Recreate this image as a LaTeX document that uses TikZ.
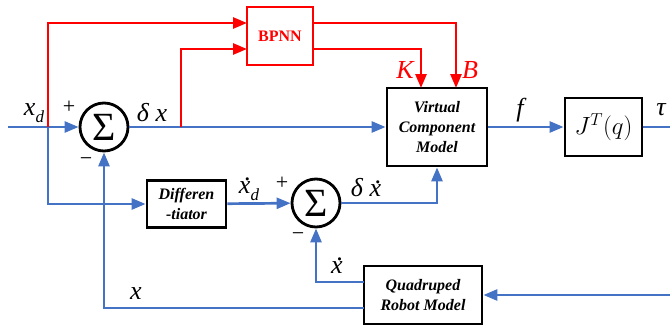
\documentclass[tikz,border=0pt]{standalone}
\usepackage{fontspec}
\setmainfont{Liberation Serif}
\usetikzlibrary{arrows.meta}
\definecolor{lblue}{RGB}{68,114,196}
\newcommand\mysub[1]{\raisebox{-0.28em}{\fontsize{17}{17}\selectfont\itshape #1}}
\newcommand\mydotx{\leavevmode\rlap{\hspace{0.2em}\raisebox{0.5em}{\upshape .}}x}
\begin{document}
\begin{tikzpicture}[x=1pt,y=-1pt,
  bl/.style={draw=lblue,line width=2.7pt},
  rd/.style={draw=red,line width=2.7pt},
  arr/.style={-{Triangle[length=14pt,width=11pt]}},
  blk/.style={draw=black,line width=2.8pt,rectangle,inner sep=0pt,align=center,
    font=\fontsize{16}{20}\selectfont\bfseries\itshape},
  sumc/.style={draw=black,circle,line width=2.8pt,minimum size=48pt,inner sep=0pt,
    font=\fontsize{40}{40}\selectfont},
  lab/.style={font=\fontsize{26}{30}\selectfont\itshape,inner sep=0pt},
  sgn/.style={font=\fontsize{22}{26}\selectfont,inner sep=0pt}]
\useasboundingbox (0,0) rectangle (670,327);

% blocks
\node[sumc] (s1) at (104,127) {Σ};
\node[sumc] (s2) at (316,203) {Σ};
\node[blk,draw=red,text=red,font=\fontsize{16}{18}\selectfont\bfseries,
  minimum width=66pt,minimum height=58pt] (bp) at (280,36) {BPNN};
\node[blk,minimum width=100pt,minimum height=78pt] (vcm) at (437,127) {Virtual\\Component\\Model};
\node[blk,minimum width=77pt,minimum height=58pt,font=\fontsize{24}{28}\selectfont] (jt) at (603.5,127) {$J^T(q)$};
\node[blk,minimum width=79pt,minimum height=47pt] (dif) at (186.5,204) {Differen\\-tiator};
\node[blk,minimum width=118pt,minimum height=58pt] (qr) at (423,295) {Quadruped\\Robot Model};

% coordinates
\coordinate (in) at (8,127);
\coordinate (j1) at (48,127);
\coordinate (j2) at (181,127);
\coordinate (bpi1) at (247,23);
\coordinate (bpi2) at (247,49);
\coordinate (bpo1) at (313,23);
\coordinate (bpo2) at (313,49);
\coordinate (vk) at (421,88);
\coordinate (vb) at (456,88);
\coordinate (out) at (670,127);
\coordinate (rin) at (670,295);
\coordinate (qo1) at (364,282);
\coordinate (qo2) at (364,308);

% blue connectors
\draw[bl,arr] (in) -- (s1);
\draw[bl,arr] (s1) -- (vcm);
\draw[bl,arr] (j1) |- (dif);
\draw[bl,arr] (dif) -- (s2);
\draw[bl,arr] (s2) -| (vcm);
\draw[bl,arr] (vcm) -- (jt);
\draw[bl] (jt) -- (out);
\draw[bl,arr] (rin) -- (qr);
\draw[bl,arr] (qo1) -| (s2);
\draw[bl,arr] (qo2) -| (s1);

% red connectors
\draw[rd,arr] (j1) |- (bpi1);
\draw[rd,arr] (j2) |- (bpi2);
\draw[rd,arr] (bpo1) -| (vb);
\draw[rd,arr] (bpo2) -| (vk);

% labels
\node[lab] at (34,113) {x\mysub{d}};
\node[sgn] at (69,107) {+};
\node[sgn] at (86,162) {−};
\node[lab] at (152,113) {δ x};
\node[lab,text=red] at (405,70) {K};
\node[lab,text=red] at (470,70) {B};
\node[lab] at (520,110) {f};
\node[lab] at (661,110) {τ};
\node[lab] at (249,189) {\mydotx\mysub{d}};
\node[sgn] at (282,183) {+};
\node[sgn] at (298,237) {−};
\node[lab] at (366,188) {δ \mydotx};
\node[lab] at (337,266) {\mydotx};
\node[lab] at (136,294) {x};
\end{tikzpicture}
\end{document}
